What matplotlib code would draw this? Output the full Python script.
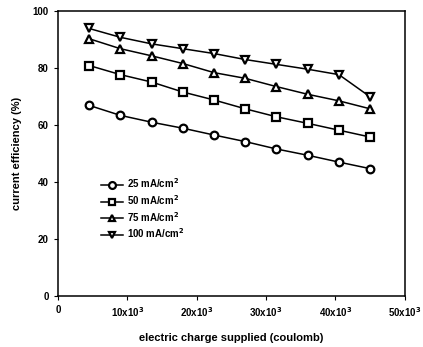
import matplotlib
matplotlib.use("Agg")
import matplotlib.pyplot as plt

plt.rcParams['font.family'] = ['Liberation Sans', 'DejaVu Sans']
plt.rcParams['font.weight'] = 'bold'
plt.rcParams['axes.labelweight'] = 'bold'
plt.rcParams['mathtext.default'] = 'bf'

charge = [4500, 9000, 13500, 18000, 22500, 27000, 31500, 36000, 40500, 45000]
eff_25 = [66.9, 63.4, 61.0, 58.9, 56.5, 54.2, 51.6, 49.4, 47.0, 44.7]
eff_50 = [80.9, 77.7, 75.1, 71.6, 68.8, 65.7, 62.9, 60.6, 58.2, 55.8]
eff_75 = [90.3, 86.8, 84.3, 81.6, 78.4, 76.4, 73.5, 70.8, 68.5, 65.7]
eff_100 = [93.9, 90.8, 88.5, 86.8, 85.1, 83.0, 81.3, 79.6, 77.7, 69.9]
labels = ['25 mA/cm$^2$', '50 mA/cm$^2$', '75 mA/cm$^2$', '100 mA/cm$^2$']
markers = ['o', 's', '^', 'v']
xticks = [0, 10000, 20000, 30000, 40000, 50000]
xticklabels = ['0', '10x10$^3$', '20x10$^3$', '30x10$^3$', '40x10$^3$', '50x10$^3$']
yticks = [0, 20, 40, 60, 80, 100]

fig = plt.figure(figsize=(4.23, 3.47), dpi=100)
ax = fig.add_axes([0.137, 0.147, 0.820, 0.821])

for ys, m, lab in zip([eff_25, eff_50, eff_75, eff_100], markers, labels):
    ax.plot(charge, ys, color='black', lw=1.1, marker=m, markersize=5.5,
            markerfacecolor='white', markeredgecolor='black', markeredgewidth=1.6,
            label=lab)

ax.set_xlim(0, 50000)
ax.set_ylim(0, 100)
ax.set_xticks(xticks)
ax.set_xticklabels(xticklabels, fontsize=7)
ax.set_yticks(yticks)
ax.set_yticklabels([str(v) for v in yticks], fontsize=7)
ax.tick_params(direction='out', length=3, width=0.8)
for s in ax.spines.values():
    s.set_linewidth(1.1)

ax.set_xlabel('electric charge supplied (coulomb)', fontsize=8, labelpad=10)
ax.set_ylabel('current efficiency (%)', fontsize=8, labelpad=8)

ax.legend(loc='upper left', bbox_to_anchor=(0.1, 0.45), frameon=False,
          fontsize=7, handlelength=2.2, labelspacing=0.3, handletextpad=0.4,
          markerscale=0.9)

fig.savefig('out.png', dpi=100)
